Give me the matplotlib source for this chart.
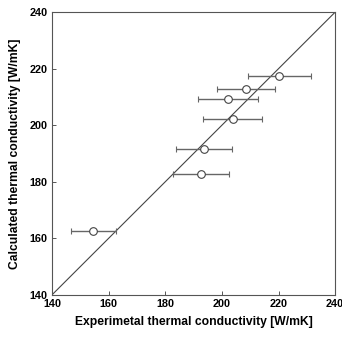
import matplotlib
matplotlib.use("Agg")
import matplotlib.pyplot as plt

plt.rcParams["font.family"] = ["Liberation Sans", "DejaVu Sans"]
plt.rcParams["font.weight"] = "bold"

exp_k = [220.3, 208.5, 202.2, 203.8, 193.7, 192.7, 154.6]
calc_k = [217.4, 212.8, 209.3, 202.1, 191.6, 182.6, 162.5]
exp_err = [11.0, 10.4, 10.6, 10.4, 10.0, 9.9, 8.0]
ticks = [140, 160, 180, 200, 220, 240]

fig = plt.figure(figsize=(3.42, 3.37), dpi=100)
ax = fig.add_axes([0.152, 0.125, 0.828, 0.839])

ax.plot([140, 240], [140, 240], color="#444444", linewidth=0.8, zorder=1)
ax.errorbar(exp_k, calc_k, xerr=exp_err, fmt="o", color="#555555",
            ecolor="#666666", elinewidth=1.0, capsize=2.5, capthick=0.8,
            markersize=5.5, markerfacecolor="white", markeredgecolor="#444444",
            markeredgewidth=0.8, zorder=2)

ax.set_xlim(140, 240)
ax.set_ylim(140, 240)
ax.set_xticks(ticks)
ax.set_yticks(ticks)
ax.tick_params(direction="in", length=3, width=0.7, labelsize=7.8, pad=3,
               top=False, right=False, color="#555555")
for s in ax.spines.values():
    s.set_color("#555555")
    s.set_linewidth(0.8)

ax.set_xlabel("Experimetal thermal conductivity [W/mK]", fontsize=8.7, fontweight="bold", labelpad=5)
ax.set_ylabel("Calculated thermal conductivity [W/mK]", fontsize=8.7, fontweight="bold", labelpad=6)

fig.savefig("out.png", dpi=100)
